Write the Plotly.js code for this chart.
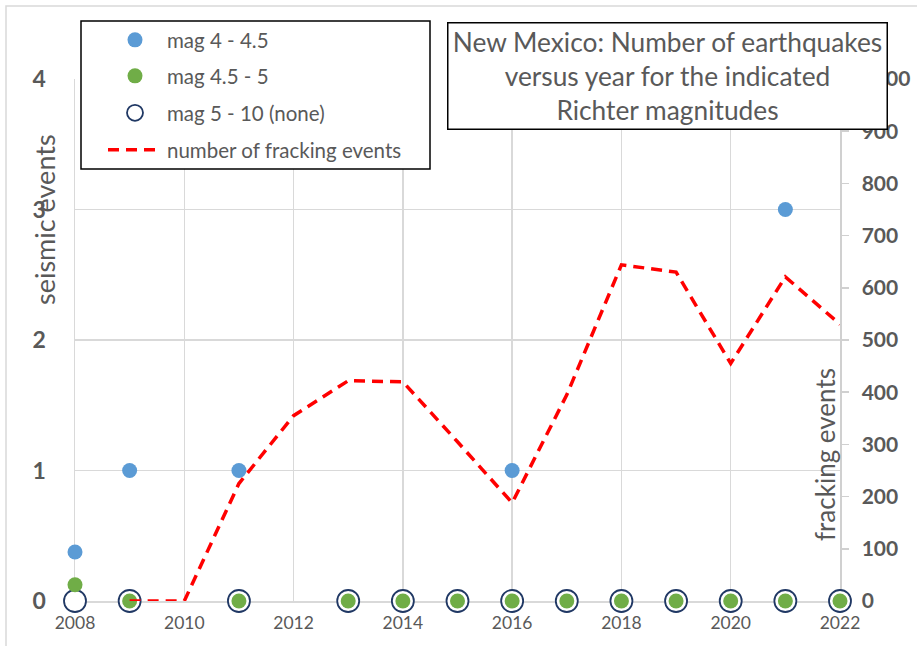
<!DOCTYPE html>
<html>
<head>
<meta charset="utf-8">
<script src="https://cdn.plot.ly/plotly-3.0.1.min.js"></script>
<style>html,body{margin:0;padding:0;background:#fff;}#chart{width:917px;height:646px;}</style>
</head>
<body>
<div id="chart"></div>
<script>
// ---- data ----
const mag4Years = [2008, 2009, 2011, 2016, 2021];
const mag4Counts = [0.375, 1, 1, 1, 3];
const mag45Years = [2008, 2009, 2011, 2013, 2014, 2015, 2016, 2017, 2018, 2019, 2020, 2021, 2022];
const mag45Counts = [0.125, 0, 0, 0, 0, 0, 0, 0, 0, 0, 0, 0, 0];
const mag5Years = [2008, 2009, 2011, 2013, 2014, 2015, 2016, 2017, 2018, 2019, 2020, 2021, 2022];
const mag5Counts = [0, 0, 0, 0, 0, 0, 0, 0, 0, 0, 0, 0, 0];
const frackYears = [2009, 2010, 2011, 2012, 2013, 2014, 2015, 2016, 2017, 2018, 2019, 2020, 2021, 2022];
const frackCounts = [0, 0, 225, 355, 422, 420, 305, 188, 395, 644, 630, 455, 621, 530];
const seriesNames = ["mag 4 - 4.5", "mag 4.5 - 5", "mag 5 - 10 (none)", "number of fracking events"];
const titleText = "New Mexico: Number of earthquakes<br>versus year for the indicated<br>Richter magnitudes";

const FONT = "Lato, 'Noto Sans', sans-serif";
const GREY = "#595959";

// pixel helpers for layout placement (plot area: 75..840 x, 79..601 y)
const L = 75, R = 840, T = 79, B = 601;
const px = x => (x - L) / (R - L);
const py = y => (B - y) / (B - T);

const traces = [
  {
    x: mag5Years, y: mag5Counts, name: seriesNames[2], type: "scatter", mode: "markers",
    marker: {symbol: "circle", size: 22, color: "#ffffff", line: {color: "#203864", width: 1.8}},
    cliponaxis: false, legend: "legend3"
  },
  {
    x: mag45Years, y: mag45Counts, name: seriesNames[1], type: "scatter", mode: "markers",
    marker: {symbol: "circle", size: 15, color: "#70AD47"},
    cliponaxis: false, legend: "legend2"
  },
  {
    x: mag4Years, y: mag4Counts, name: seriesNames[0], type: "scatter", mode: "markers",
    marker: {symbol: "circle", size: 15, color: "#5B9BD5"},
    cliponaxis: false, legend: "legend"
  },
  {
    x: frackYears, y: frackCounts, name: seriesNames[3], type: "scatter", mode: "lines",
    line: {color: "#FF0000", width: 3.5, dash: "11px,7px"},
    yaxis: "y2", cliponaxis: false, legend: "legend4"
  }
];

function leg(rowY) {
  return {
    x: px(103), xanchor: "left", y: py(rowY), yanchor: "middle",
    bgcolor: "rgba(0,0,0,0)", borderwidth: 0, itemwidth: 54,
    font: {family: FONT, size: 20.5, color: GREY}
  };
}

const layout = {
  width: 917, height: 646,
  margin: {l: L, r: 917 - R, t: T, b: 646 - B},
  paper_bgcolor: "#ffffff", plot_bgcolor: "#ffffff",
  font: {family: FONT, color: GREY},
  showlegend: true,
  legend: leg(40), legend2: leg(76), legend3: leg(113), legend4: leg(150),
  xaxis: {
    range: [2008, 2022], dtick: 2, tick0: 2008, showgrid: true, gridcolor: "#d9d9d9", gridwidth: 1.5,
    zeroline: false, showline: true, linecolor: "#d9d9d9", linewidth: 1.5,
    ticks: "", tickfont: {family: FONT, size: 17.5, color: GREY}, ticklabelstandoff: 5,
    layer: "below traces", fixedrange: true
  },
  yaxis: {
    range: [0, 4], dtick: 1, showgrid: true, gridcolor: "#d9d9d9", gridwidth: 1.5,
    zeroline: false, showline: true, linecolor: "#d9d9d9", linewidth: 1.5,
    ticks: "", tickfont: {family: FONT, size: 23, color: GREY, weight: "bold"},
    ticklabelstandoff: 23, layer: "below traces", fixedrange: true
  },
  yaxis2: {
    range: [0, 1000], dtick: 100, overlaying: "y", side: "right", showgrid: false,
    zeroline: false, showline: true, linecolor: "#d0d0d0", linewidth: 1.5,
    ticks: "outside", ticklen: 7, tickcolor: "#d0d0d0", tickwidth: 1.5,
    tickfont: {family: FONT, size: 21, color: GREY, weight: "bold"},
    ticklabelstandoff: 9, layer: "below traces", fixedrange: true
  },
  shapes: [
    {type: "rect", xref: "paper", yref: "paper", x0: px(6), x1: px(930), y0: py(6), y1: py(660),
     line: {color: "#d9d9d9", width: 1.5}, fillcolor: "rgba(0,0,0,0)", layer: "below"},
    {type: "rect", xref: "paper", yref: "paper", x0: px(81), x1: px(430), y0: py(21), y1: py(169),
     line: {color: "#000000", width: 1.5}, fillcolor: "#ffffff", layer: "above"}
  ],
  annotations: [
    {text: titleText, xref: "paper", yref: "paper", x: px(667.5), y: py(76), xanchor: "center", yanchor: "middle",
     showarrow: false, width: 438, height: 105, align: "center", valign: "middle",
     bgcolor: "#ffffff", bordercolor: "#000000", borderwidth: 1.5, borderpad: 0,
     font: {family: FONT, size: 26.3, color: GREY}},
    {text: "seismic events", xref: "paper", yref: "paper", x: px(45), y: py(220), xanchor: "center", yanchor: "middle",
     textangle: -90, showarrow: false, font: {family: FONT, size: 27, color: GREY}},
    {text: "fracking events", xref: "paper", yref: "paper", x: px(825), y: py(455), xanchor: "center", yanchor: "middle",
     textangle: -90, showarrow: false, font: {family: FONT, size: 26, color: GREY}}
  ]
};

Plotly.newPlot("chart", traces, layout, {staticPlot: true, displayModeBar: false});
</script>
</body>
</html>
